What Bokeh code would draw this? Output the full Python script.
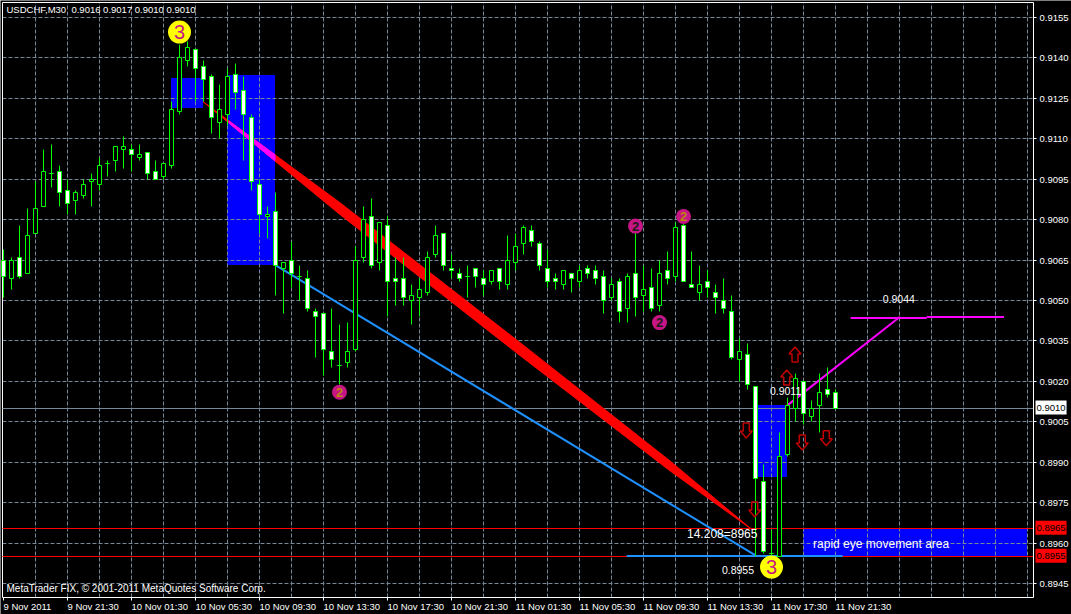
from bokeh.plotting import figure
from bokeh.models import (Range1d, FixedTicker, NumeralTickFormatter, Label, ColumnDataSource)
from bokeh.core.properties import value
from bokeh.embed import file_html
from bokeh.resources import INLINE

# candle rows: open, high, low, close of each 30-minute bar
opens = [.9065,.9058,.9066,.9060,.9075,.9085,.9097,.9098,.9091,.9087,.9089,.9094,.9093,.9101,.9102,.9106,.9106,.9103,.9105,.9098,.9096,
 .9100,.9120,.9139,.9143,.9137,.9133,.9116,.9119,.9134,.9128,.9118,.9093,.9081,.9083,.9062,.9065,.9059,.9058,.9046,.9045,.9031,.9026,.9027,
 .9032,.9066,.9081,.9064,.9078,.9058,.9058,.9050,.9051,.9053,.9067,.9075,.9062,.9060,.9059,.9062,.9058,.9057,.9062,.9056,.9064,.9071,.9076,
 .9071,.9062,.9058,.9056,.9060,.9057,.9062,.9061,.9059,.9051,.9057,.9047,.9060,.9052,.9055,.9048,.9061,.9059,.9078,.9056,.9053,.9057,.9053,
 .9050,.9046,.9028,.9030,.9018,.8983,.8956,.8955,.8993,.9010,.9020,.9007,.9011,.9017,.9016]
highs = [.9069,.9066,.9078,.9084,.9094,.9106,.9108,.9100,.9095,.9091,.9095,.9097,.9103,.9102,.9107,.9111,.9108,.9108,.9105,.9102,.9101,
 .9124,.9145,.9146,.9143,.9139,.9134,.9130,.9136,.9138,.9133,.9119,.9095,.9085,.9090,.9064,.9072,.9063,.9061,.9047,.9045,.9047,.9041,.9042,
 .9070,.9085,.9088,.9079,.9081,.9066,.9066,.9056,.9058,.9068,.9078,.9075,.9067,.9062,.9063,.9062,.9061,.9061,.9062,.9074,.9075,.9078,.9078,
 .9072,.9069,.9060,.9061,.9060,.9063,.9063,.9063,.9061,.9058,.9058,.9060,.9078,.9063,.9062,.9065,.9068,.9079,.9082,.9068,.9063,.9061,.9056,
 .9058,.9052,.9036,.9034,.9018,.8989,.8965,.9001,.9014,.9023,.9020,.9013,.9023,.9025,.9017]
lows = [.9051,.9054,.9058,.9060,.9075,.9085,.9092,.9085,.9082,.9082,.9088,.9085,.9091,.9096,.9098,.9099,.9098,.9102,.9095,.9095,.9095,
 .9099,.9119,.9137,.9124,.9124,.9112,.9110,.9115,.9121,.9102,.9091,.9075,.9073,.9052,.9045,.9055,.9050,.9046,.9029,.9022,.9025,.9019,.9025,
 .9031,.9064,.9062,.9061,.9044,.9048,.9048,.9041,.9044,.9052,.9066,.9061,.9058,.9057,.9051,.9055,.9052,.9056,.9054,.9054,.9061,.9067,.9070,
 .9061,.9055,.9054,.9054,.9053,.9055,.9058,.9056,.9045,.9050,.9042,.9042,.9044,.9046,.9046,.9046,.9056,.9057,.9057,.9055,.9050,.9051,.9045,
 .9045,.9028,.9020,.9017,.8955,.8956,.8955,.8955,.8992,.9005,.9004,.9005,.9001,.9014,.9010]
closes = [.9059,.9065,.9059,.9074,.9084,.9098,.9097,.9090,.9086,.9090,.9093,.9095,.9100,.9101,.9107,.9107,.9104,.9104,.9097,.9095,.9101,
 .9121,.9140,.9144,.9136,.9132,.9118,.9121,.9133,.9127,.9119,.9094,.9082,.9082,.9063,.9064,.9060,.9059,.9047,.9044,.9032,.9028,.9026,.9031,
 .9065,.9080,.9063,.9079,.9057,.9057,.9051,.9052,.9054,.9066,.9074,.9063,.9061,.9058,.9059,.9059,.9056,.9061,.9057,.9065,.9070,.9077,.9072,
 .9063,.9057,.9057,.9061,.9058,.9061,.9060,.9058,.9050,.9056,.9046,.9059,.9051,.9054,.9047,.9060,.9058,.9077,.9057,.9055,.9056,.9055,.9051,
 .9047,.9029,.9031,.9019,.8984,.8957,.8956,.8992,.9011,.9021,.9008,.9010,.9016,.9015,.9010]

y_ticks = [.9155,.9140,.9125,.9110,.9095,.9080,.9065,.9050,.9035,.9020,.9005,.8990,.8975,.8960,.8945]
x_ticks = list(range(0, 105, 8))
x_labels = ["9 Nov 2011","9 Nov 21:30","10 Nov 01:30","10 Nov 05:30","10 Nov 09:30","10 Nov 13:30","10 Nov 17:30",
            "10 Nov 21:30","11 Nov 01:30","11 Nov 05:30","11 Nov 09:30","11 Nov 13:30","11 Nov 17:30","11 Nov 21:30"]
grid_x = list(range(4, 129, 4))

boxes_left = [21, 28, 94, 100]
boxes_right = [25, 34, 98, 128]
boxes_top = [.91322, .91333, .9011, .89654]
boxes_bottom = [.91211, .9063, .89843, .8955]

levels = [.9010, .89654, .8955]

wedge_x = [24.94, 42.06, 64.56, 83.31, 93.56, 83.31, 64.56, 42.06]
wedge_y = [.912376, .90863, .90344, .89905, .8965, .89868, .90296, .90819]
overlap_x = [28.19, 33.94, 33.94, 28.19]
overlap_y = [.91166, .91041, .91018, .91158]

fib_x = [33.94, 93.9]
fib_y = [.90632, .89556]
base_x = [77.9, 104.9]
base_y = [.89552, .89552]
target_x = [97.94, 112.06]
target_y = [.9011, .9044]
target_h1_x = [105.9, 115.4]
target_h1_y = [.90435, .90435]
target_h2_x = [115.4, 125.06]
target_h2_y = [.90439, .90439]

big_k = [22, 96]
big_y = [.91496, .89511]
small_k = [42, 79, 82, 85]
small_y = [.9016, .90776, .90418, .90812]
small_cols = ["#b8860b", "#1a1a1a", "#1a1a1a", "#b8860b"]

up_k = [98.94, 97.9]
up_y = [.9030, .90214]
down_k = [92.85, 99.85, 102.85, 93.9]
down_y = [.90018, .89973, .89989, .89725]

W, H = 1071, 614
LEFT, TOP, RIGHT, BOTTOM = 2, 2, 1033, 597   # the price pane inside the picture
PX = 1 / 8.0            # candle units per pixel
S = 26952.4             # pixels per unit of price
PY = 1 / S
Y_TOP = .916057 + TOP * PY     # price at the very top of the picture
Y_BOTTOM = Y_TOP - H * PY
X_START = -3 * PX
FONT = "Liberation Sans"

pane_left = X_START + LEFT * PX
pane_right = X_START + RIGHT * PX
pane_top = Y_TOP - TOP * PY
pane_bottom = Y_TOP - BOTTOM * PY

def snap(v):
    """Nearest price that lands on a whole pixel row."""
    return Y_TOP - round((Y_TOP - v) * S) * PY

p = figure(width=W, height=H, output_backend="svg", toolbar_location=None,
           x_range=Range1d(X_START, X_START + W * PX),
           y_range=Range1d(Y_BOTTOM, Y_TOP),
           y_axis_location="right", x_axis_location="below",
           min_border_left=0, min_border_top=0, min_border_right=0, min_border_bottom=0,
           background_fill_color="#000000", border_fill_color="#000000",
           outline_line_color=None)

# axes, pinned to the pane's right and bottom edges
snapped_ticks = [snap(t) for t in y_ticks]
ya = p.yaxis[0]
ya.fixed_location = pane_right
ya.bounds = (pane_bottom, pane_top)
ya.ticker = FixedTicker(ticks=snapped_ticks)
ya.formatter = NumeralTickFormatter(format="0.0000")
xa = p.xaxis[0]
xa.fixed_location = pane_bottom
xa.bounds = (pane_left, pane_right)
xa.ticker = FixedTicker(ticks=x_ticks)
xa.major_label_overrides = {t: "" for t in x_ticks}
for a in (xa, ya):
    a.axis_line_color = "#ffffff"
    a.major_tick_line_color = "#ffffff"
    a.minor_tick_line_color = None
    a.major_tick_in = 0
    a.major_tick_out = 3
    a.major_label_text_color = "#ffffff"
    a.major_label_text_font = FONT
    a.major_label_text_font_size = "9.5px"
ya.major_label_standoff = 3
xa.major_label_standoff = 2

# left and top edges of the pane
p.line([pane_left, pane_left, pane_right], [pane_bottom, pane_top, pane_top],
       line_color="#ffffff", line_width=1)

# grid, limited to the pane
p.grid.visible = False
p.segment(x0=grid_x, x1=grid_x, y0=[pane_bottom] * len(grid_x), y1=[pane_top] * len(grid_x),
          line_color="#778899", line_dash="4 2", line_width=1, level="underlay")
p.segment(x0=[pane_left] * len(y_ticks), x1=[pane_right] * len(y_ticks), y0=snapped_ticks, y1=snapped_ticks,
          line_color="#778899", line_dash="4 2", line_width=1, level="underlay")

# filled areas sit beneath the grid
half_x, half_y = 0.5 * PX, 0.5 * PY
p.quad(left=[v - half_x for v in boxes_left], right=[v - half_x for v in boxes_right],
       top=[snap(v) + half_y for v in boxes_top], bottom=[snap(v) + half_y for v in boxes_bottom],
       fill_color="#0000ff", line_color=None, level="image")

# current price and level lines
for lvl, col in zip(levels, ["#778899", "#ff0000", "#ff0000"]):
    p.line([pane_left, pane_right], [snap(lvl), snap(lvl)], line_color=col, line_width=1)

# trend wedge, and its blend over the blue box
p.patch(wedge_x, wedge_y, fill_color="#ff0000", line_color="#ff0000", line_width=1)
p.patch(overlap_x, overlap_y, fill_color="#ff00ff", line_color="#ff00ff", line_width=1)

# thin trend lines
p.line(fib_x, fib_y, line_color="#1e90ff", line_width=2)
p.line(base_x, base_y, line_color="#1e90ff", line_width=2)
p.line(target_x, target_y, line_color="#ff00ff", line_width=2)
p.line(target_h1_x, target_h1_y, line_color="#ff00ff", line_width=2)
p.line(target_h2_x, target_h2_y, line_color="#ff00ff", line_width=2)

# candles
idx = list(range(len(opens)))
src = ColumnDataSource(dict(
    x=idx,
    h=[snap(v) for v in highs], l=[snap(v) for v in lows],
    top=[snap(max(a, b)) for a, b in zip(opens, closes)],
    bot=[snap(min(a, b)) for a, b in zip(opens, closes)],
    fill=["#ffffff" if c < o else "#000000" for o, c in zip(opens, closes)],
))
p.segment(x0="x", x1="x", y0="h", y1="l", source=src, line_color="#00ff00", line_width=1)
p.vbar(x="x", width=0.5, top="top", bottom="bot", source=src,
       fill_color="fill", line_color="#00ff00", line_width=1)

# arrows
def arrow(k, y, d):
    xs_px = [0, 6, 3, 3, -3, -3, -6]
    ys_px = [7.5, 0.5, 0.5, -7.5, -7.5, 0.5, 0.5]
    return [k + a * PX for a in xs_px], [y + d * b * PY for b in ys_px]
up = [arrow(k, y, 1) for k, y in zip(up_k, up_y)]
down = [arrow(k, y, -1) for k, y in zip(down_k, down_y)]
shapes = up + down
p.patches([s[0] for s in shapes], [s[1] for s in shapes], fill_color=None,
          line_color="#c00000", line_width=1.5)

# wave labels
p.scatter(big_k, big_y, marker="circle", size=23, fill_color="#ffff00", line_color=None)
p.text(big_k, big_y, text=["3", "3"], text_color="#c71585", text_font=value(FONT),
       text_font_size="20px", text_align="center", text_baseline="middle")
p.scatter(small_k, small_y, marker="circle", size=15, fill_color="#c71585", line_color=None)
p.text(small_k, small_y, text=["2"] * 4, text_color=small_cols, text_font=value(FONT),
       text_font_size="13px", text_font_style="bold", text_align="center", text_baseline="middle")

def note(k, y, s, size, align="left"):
    p.text([k], [y], text=[s], text_color="#ffffff", text_font=value(FONT), text_font_size=size,
           text_align=align, text_baseline="middle")

note(85.44, .89632, "14.208=8965", "12px")
note(101.2, .89597, "rapid eye movement area", "12px")
note(89.8, .89499, "0.8955", "10.5px")
note(95.8, .90166, "0.9011", "10.5px")
note(109.9, .90505, "0.9044", "10.5px")

def screen_text(x, y, s, color="#ffffff", size="9.5px", **kw):
    p.add_layout(Label(x=x, y=y, x_units="screen", y_units="data", text=s, text_color=color,
                       text_font=FONT, text_font_size=size, text_baseline="middle", **kw))

screen_text(6, .91578, "USDCHF,M30\u00a0\u00a00.9016 0.9017 0.9010 0.9010")
screen_text(6, .8943, "MetaTrader FIX, \u00a9 2001-2011 MetaQuotes Software Corp.", size="10px")
tag_pad = (1, 4)
screen_text(1035, .90103, "0.9010", color="#000000", background_fill_color="#ffffff", padding=tag_pad)
screen_text(1035, .89657, "0.8965", color="#000000", background_fill_color="#ff0000", padding=tag_pad)
screen_text(1035, .89553, "0.8955", color="#000000", background_fill_color="#ff0000", padding=tag_pad)

# time labels start at their tick rather than centring on it
for t, s in zip(x_ticks, x_labels):
    p.add_layout(Label(x=t, y=.89363, text=s, text_color="#ffffff", text_font=FONT,
                       text_font_size="9.5px", text_baseline="middle", text_align="left"))

open("out.html", "w").write(file_html(p, INLINE))
